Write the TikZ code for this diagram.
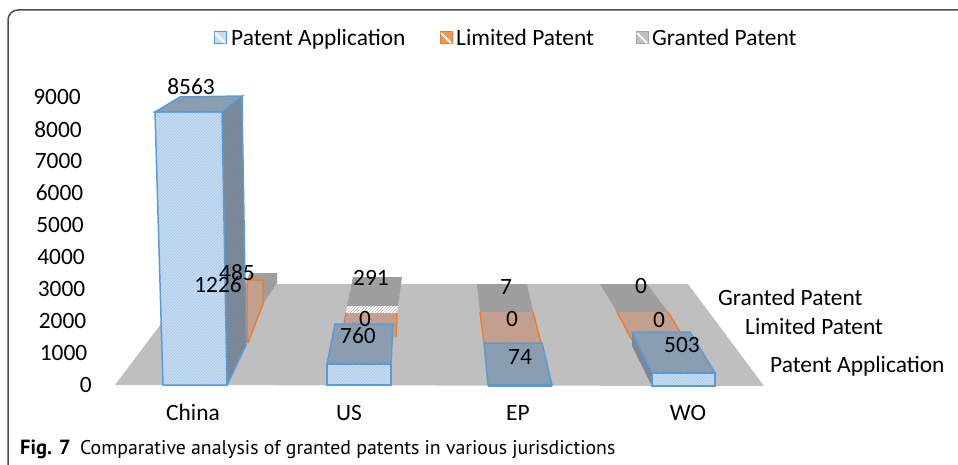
\documentclass[tikz,border=0pt]{standalone}
\usepackage{fontspec}
\setmainfont{Carlito}
\newfontfamily\capfont{PT Sans}
\usetikzlibrary{patterns}

\definecolor{appline}{HTML}{5B9BD5}
\definecolor{appfill}{HTML}{C9DDF3}
\definecolor{apphatch}{HTML}{A3C6E8}
\definecolor{apptopc}{HTML}{8FA2B6}
\definecolor{apptophatch}{HTML}{8094A8}
\definecolor{appsidec}{HTML}{7F8D9C}
\definecolor{appsidehatch}{HTML}{707E8D}
\definecolor{limline}{HTML}{ED7D31}
\definecolor{limfill}{HTML}{C9A593}
\definecolor{limhatch}{HTML}{BA9684}
\definecolor{grantfill}{HTML}{A4A4A4}
\definecolor{granthatch}{HTML}{959595}
\definecolor{floorc}{HTML}{BFBFBF}
\definecolor{framec}{HTML}{4D4D4D}

\begin{document}
\begin{tikzpicture}[x=1pt,y=-1pt,
    every node/.style={inner sep=0pt,font=\fontsize{23.4}{27}\selectfont},
    appfront/.style={preaction={fill=appfill},pattern=north east lines,pattern color=apphatch,draw=appline,line width=1.5pt},
    apptop/.style={preaction={fill=apptopc},pattern=north east lines,pattern color=apptophatch,draw=appline,line width=1.5pt},
    appside/.style={preaction={fill=appsidec},pattern=north east lines,pattern color=appsidehatch},
    limface/.style={preaction={fill=limfill},pattern=north east lines,pattern color=limhatch},
    limedge/.style={draw=limline,line width=1.5pt},
    grantface/.style={preaction={fill=grantfill},pattern=north east lines,pattern color=granthatch},
    legbox/.style={line width=1pt}]
  \useasboundingbox (0,0) rectangle (958,465);
  \draw[framec,line width=1.5pt,rounded corners=10pt] (8,465) -- (8,10) -- (958,10);

  % legend
  \begin{scope}
    \draw[legbox,draw=appline,fill=appfill] (214,32) rectangle (226,44);
    \draw[white,line width=2pt] (215,33) -- (225,43);
    \node[anchor=base west] (legapp) at (231,46) {Patent Application};
    \draw[legbox,draw=limline,fill=limline!80] (440,32) rectangle (452,44);
    \draw[white,line width=2pt] (441,33) -- (451,43);
    \node[anchor=base west] (leglim) at (456,46) {Limited Patent};
    \draw[legbox,draw=grantfill,fill=grantfill!70] (636,32) rectangle (648,44);
    \draw[white,line width=2pt] (637,33) -- (647,43);
    \node[anchor=base west] (leggrant) at (652,46) {Granted Patent};
  \end{scope}

  % axis numbers
  \foreach \v/\xr [count=\i from 0] in {0/92,1000/87.5,2000/86.5,3000/85.5,4000/85,5000/84,6000/83.5,7000/82.5,8000/82,9000/81}
    \node[anchor=east] (tick\i) at (\xr,384.5-31.9*\i) {\v};

  % floor
  \fill[floorc] (115,385) -- (764,386) -- (688,284) -- (191,284) -- cycle;

  % granted patent row
  \begin{scope}
    \path[grantface] (250,273) -- (277,273) -- (277,283) -- (263,304) -- (263,280) -- (247,280) -- cycle;
    \path[grantface] (353,277) -- (402,277) -- (398,306) -- (347,306) -- cycle;
    \path[preaction={fill=white},pattern=north east lines,pattern color=grantfill!70] (347,306) -- (398,306) -- (397,313) -- (346,313) -- cycle;
    \path[grantface] (477,284) -- (527,284) -- (533,312) -- (480,312) -- cycle;
    \path[grantface] (600,284) -- (647,284) -- (668,312) -- (617,312) -- cycle;
  \end{scope}

  % limited patent row
  \begin{scope}
    \path[limface] (247,280) -- (263,280) -- (263,304) -- (248,343) -- (246,343) -- cycle;
    \draw[limedge] (247,343) -- (247,280) -- (263,280) -- (263,304) -- (248,343);
    \path[limface] (346,313) -- (397,313) -- (396,337) -- (342,337) -- cycle;
    \draw[limedge] (346,313) -- (342,337) (397,313) -- (396,337);
    \path[limface] (480,312) -- (533,312) -- (541,343) -- (484,343) -- cycle;
    \draw[limedge] (480,312) -- (484,343) (533,312) -- (541,343);
    \path[limface] (617,312) -- (668,312) -- (685,340) -- (632,340) -- cycle;
    \draw[limedge] (617,312) -- (632,340) (668,312) -- (685,340);
  \end{scope}

  % patent application row
  \begin{scope}
    \path[appside] (222,112) -- (242,96) -- (246,345) -- (227,385) -- cycle;
    \draw[appline,line width=1.5pt] (242,96) -- (246,345) -- (227,385);
    \path[appfront] (155,112) -- (222,112) -- (227,385) -- (163,385) -- cycle;
    \path[apptop] (155,112) -- (180,97) -- (242,96) -- (222,112) -- cycle;

    \path[apptop] (335,324) -- (393,324) -- (391,364) -- (327,364) -- cycle;
    \path[appfront] (327,364) -- (391,364) -- (391,385) -- (327,385) -- cycle;

    \path[apptop] (484,343) -- (542,343) -- (552,385) -- (488,385) -- cycle;
    \draw[appline,line width=3pt] (488,385) -- (552,385);

    \path[appside] (632,332) -- (652,373) -- (652,386) -- (632,346) -- cycle;
    \path[apptop] (632,332) -- (690,332) -- (715,373) -- (652,373) -- cycle;
    \path[appfront] (652,373) -- (715,373) -- (715,386) -- (652,386) -- cycle;
  \end{scope}

  % value labels
  \node (vchinagrant) at (237,273) {485};
  \node (vchinalim) at (218,285) {1226};
  \node (vchinaapp) at (191,87) {8563};
  \node (vusgrant) at (371,278) {291};
  \node (vuslim) at (365,319) {0};
  \node (vusapp) at (358,336) {760};
  \node (vepgrant) at (506,287) {7};
  \node (veplim) at (512,319) {0};
  \node (vepapp) at (520,357) {74};
  \node (vwogrant) at (641,286) {0};
  \node (vwolim) at (659,320) {0};
  \node (vwoapp) at (682,345) {503};

  % row names
  \node[anchor=base west] (rowgrant) at (718,305) {Granted Patent};
  \node[anchor=base west] (rowlim) at (745,334) {Limited Patent};
  \node[anchor=base west] (rowapp) at (770,372) {Patent Application};

  % categories
  \node[anchor=base] (catchina) at (193,420) {China};
  \node[anchor=base] (catus) at (349,420) {US};
  \node[anchor=base] (catep) at (518,420) {EP};
  \node[anchor=base] (catwo) at (688,420) {WO};

  % caption
  \node[anchor=base west,font=\capfont\bfseries\fontsize{20.5}{24}\selectfont] (figno) at (20,454) {Fig. 7};
  \node[anchor=base west,font=\capfont\fontsize{19.8}{23}\selectfont] (figtext) at ([xshift=9pt]figno.base east) {Comparative analysis of granted patents in various jurisdictions};
\end{tikzpicture}
\end{document}
